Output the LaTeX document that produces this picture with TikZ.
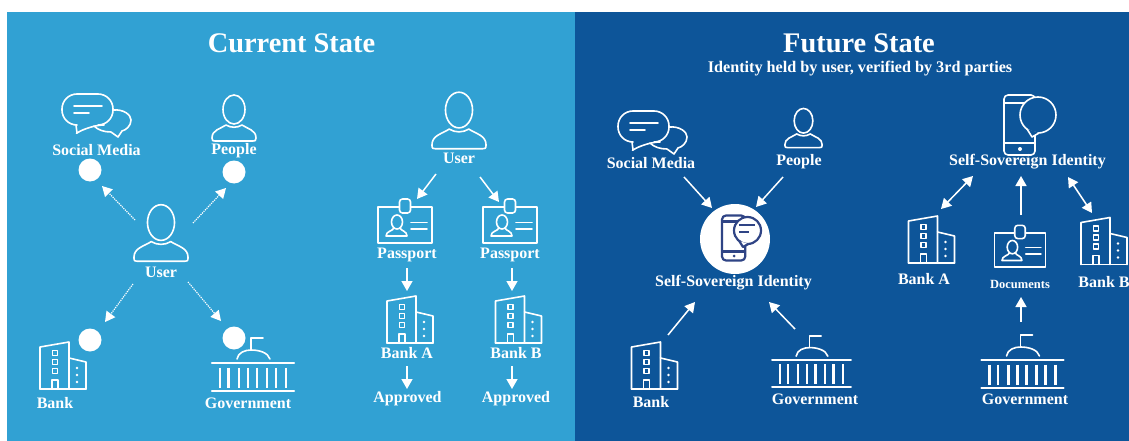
\documentclass[tikz,border=0pt]{standalone}
\usepackage{fontspec}
\setmainfont{Liberation Serif}
\usetikzlibrary{arrows.meta}
\definecolor{leftbg}{HTML}{31A1D3}
\definecolor{rightbg}{HTML}{0D5599}
\definecolor{phoneink}{HTML}{2F4485}
\newcommand{\lab}[1]{\fontsize{#1}{#1}\selectfont\bfseries}
\tikzset{
  x=1pt,y=-1pt,
  icon/.style={draw=white,line width=1.6pt,line join=round,line cap=round},
  lbl/.style={text=white,inner sep=0pt,font=\lab{16}},
  dotnode/.style={circle,fill=white,minimum size=23pt,inner sep=0pt},
  solidarrow/.style={draw=white,line width=1.5pt,-{Triangle[length=10pt,width=11pt]}},
  dblarrow/.style={draw=white,line width=1.5pt,{Triangle[length=10pt,width=11pt]}-{Triangle[length=10pt,width=11pt]}},
  dotarrow/.style={draw=white,line width=1.2pt,densely dotted,-{Triangle[length=10pt,width=11pt,line width=0pt]}},
  pics/person/.style={code={
    \draw[icon] (0,-8.5) ellipse [x radius=11,y radius=14.5];
    \draw[icon] (-8,7) .. controls (-14,11) and (-22,12) .. (-22,20) .. controls (-22,23) and (-21,23) .. (-19,23)
      -- (19,23) .. controls (21,23) and (22,23) .. (22,20) .. controls (22,12) and (14,11) .. (8,7)
      .. controls (3,10) and (-3,10) .. (-8,7) -- cycle;
  }},
  pics/chat/.style={code={
    \draw[icon,rounded corners=15pt] (-20,10) -- (-34,10) -- (-34,-21) -- (17,-21) -- (17,10) -- (-7,10) [sharp corners] -- (-19,18) -- (-20,10);
    \draw[icon] (-22,-9) -- (6,-9);
    \draw[icon] (-22,-2) -- (-7,-2);
    \draw[icon] (17,-5) .. controls (28,-6) and (35,0) .. (35,5) .. controls (35,11) and (30,15) .. (26,16)
      -- (22,22) -- (15,17) .. controls (8,17) and (2,15) .. (-2,11);
  }},
  pics/bank/.style={code={
    \draw[icon] (-23,23) -- (-23,-19) -- (6,-24) -- (6,23);
    \draw[icon] (6,-8) -- (23,-4) -- (23,23);
    \draw[icon] (-23,23) -- (23,23);
    \foreach \wy in {-13,-4,5}{\draw[icon,line width=1.4pt] (-10.5,\wy-2.5) rectangle (-5.5,\wy+2.5);}
    \draw[icon,line width=1.4pt] (-11,23) -- (-11,14) -- (-5,14) -- (-5,23);
    \foreach \wy in {2,9,16}{\fill[white] (14,\wy) circle (1.4);}
  }},
  pics/gov/.style={code={
    \draw[icon,line width=2.4pt] (-41,-1.5) -- (41,-1.5);
    \draw[icon,line width=2.4pt] (-41,26.5) -- (41,26.5);
    \foreach \cx in {-33,-24.5,-14,-5,4,14,23,33}{\draw[icon,line width=2.4pt,line cap=butt] (\cx,3) -- (\cx,23);}
    \draw[icon] (-16,-5.5) .. controls (-15,-12) and (-8,-14.5) .. (-2,-14.5) .. controls (6,-14.5) and (15,-12) .. (17,-5.5);
    \draw[icon] (-2,-14.5) -- (-2,-26.5) -- (10,-26.5);
  }},
  pics/idcard/.style={code={
    \draw[icon] (-27,-18) rectangle (27,18);
    \draw[icon,fill=#1,rounded corners=3pt] (-5.5,-26) rectangle (5.5,-12);
    \draw[icon] (-8,-3) ellipse [x radius=5.5,y radius=7];
    \draw[icon] (-11,3) .. controls (-12,6) and (-19,6) .. (-19,11) -- (2,11) .. controls (2,6) and (-4,6) .. (-5,3);
    \draw[icon] (6,-2.5) -- (22,-2.5);
    \draw[icon] (6,4) -- (22,4);
  }},
  pics/phone/.style n args={3}{code={
    \draw[draw=#1,line width=#3,rounded corners=4pt,line join=round] (-26,-30) rectangle (5,30);
    \draw[draw=#1,line width=#3] (-26,-22) -- (5,-22);
    \draw[draw=#1,line width=#3] (-26,18) -- (5,18);
    \fill[#1] (-10,24) circle (2);
    \draw[draw=#1,line width=#3,fill=#2] (8,-10) circle (18);
    \draw[draw=#1,line width=#3,fill=#2,line join=round] (-3,4) -- (2,12) -- (9,8);
  }},
}
\begin{document}
\begin{tikzpicture}
\useasboundingbox (0,0) rectangle (1129,441);
\fill[white] (0,0) rectangle (1129,441);
\fill[leftbg] (7,12) rectangle (575,441);
\fill[rightbg] (575,12) rectangle (1129,441);

% Titles
\node[lbl,font=\lab{28.4}] (titleL) at (291.5,43) {Current State};
\node[lbl,font=\lab{28.4}] (titleR) at (859,43) {Future State};
\node[lbl,font=\lab{16.2}] (subR) at (860,68.5) {Identity held by user, verified by 3rd parties};

% Current state, left group
\pic at (96,115) {chat};
\pic at (234,118) {person};
\pic[scale=1.23] at (161,233) {person};
\pic at (63,366) {bank};
\pic at (253,364.5) {gov};
\node[lbl] (lsm) at (96.5,150) {Social Media};
\node[lbl] (lpe) at (234,151) {People};
\node[lbl] (lus) at (161,272) {User};
\node[lbl] (lba) at (55,403) {Bank};
\node[lbl] (lgo) at (248,403) {Government};
\node[dotnode] (d1) at (90,170) {};
\node[dotnode] (d2) at (234,172) {};
\node[dotnode] (d3) at (90,340) {};
\node[dotnode] (d4) at (234,338) {};
\coordinate (c1a) at (135,220); \coordinate (c1b) at (102,186);
\coordinate (c2a) at (193,223); \coordinate (c2b) at (226,188);
\coordinate (c3a) at (133,284); \coordinate (c3b) at (105,322);
\coordinate (c4a) at (188,282); \coordinate (c4b) at (221,321);
\draw[dotarrow] (c1a) -- (c1b);
\draw[dotarrow] (c2a) -- (c2b);
\draw[dotarrow] (c3a) -- (c3b);
\draw[dotarrow] (c4a) -- (c4b);

% Current state, right group
\pic[scale=1.23] at (459,120.5) {person};
\pic at (405,225) {idcard=leftbg};
\pic at (510,225) {idcard=leftbg};
\pic at (410,320) {bank};
\pic at (518.5,320) {bank};
\node[lbl] (mus) at (459,158.5) {User};
\node[lbl] (mpa) at (407,255) {Passport};
\node[lbl] (mpb) at (510,255) {Passport};
\node[lbl] (mba) at (407,353) {Bank A};
\node[lbl] (mbb) at (516,353) {Bank B};
\node[lbl] (map) at (407.5,399) {Approved};
\node[lbl] (mbp) at (516,399) {Approved};
\coordinate (c5a) at (436,174); \coordinate (c5b) at (417,199);
\coordinate (c6a) at (480,177); \coordinate (c6b) at (499,202);
\coordinate (c7a) at (407,268); \coordinate (c7b) at (407,291);
\coordinate (c8a) at (512,268); \coordinate (c8b) at (512,291);
\coordinate (c9a) at (407,366); \coordinate (c9b) at (407,389);
\coordinate (c10a) at (512,366); \coordinate (c10b) at (512,389);
\draw[solidarrow] (c5a) -- (c5b);
\draw[solidarrow] (c6a) -- (c6b);
\draw[solidarrow] (c7a) -- (c7b);
\draw[solidarrow] (c8a) -- (c8b);
\draw[solidarrow] (c9a) -- (c9b);
\draw[solidarrow] (c10a) -- (c10b);

% Future state, left group
\pic at (652,132) {chat};
\pic[scale=.85] at (803.5,128) {person};
\pic at (654.5,366) {bank};
\pic[scale=.96] at (811.5,361.5) {gov};
\node[circle,fill=white,minimum size=70pt,inner sep=0pt] (ssi) at (735,239) {};
\pic[scale=.75] at (741.5,238) {phone={phoneink}{white}{2.2pt}};
\draw[phoneink,line width=1.6pt] (739,225) -- (755,225);
\draw[phoneink,line width=1.6pt] (739,232) -- (749,232);
\node[lbl] (rsm) at (651,163) {Social Media};
\node[lbl] (rpe) at (799,162) {People};
\node[lbl] (rss) at (733.5,283) {Self-Sovereign Identity};
\node[lbl] (rba) at (651,402) {Bank};
\node[lbl] (rgo) at (815,399) {Government};
\coordinate (c11a) at (684,177); \coordinate (c11b) at (712,208);
\coordinate (c12a) at (783,177); \coordinate (c12b) at (756,207);
\coordinate (c13a) at (668,335); \coordinate (c13b) at (695,302);
\coordinate (c14a) at (795,329); \coordinate (c14b) at (769,302);
\draw[solidarrow] (c11a) -- (c11b);
\draw[solidarrow] (c12a) -- (c12b);
\draw[solidarrow] (c13a) -- (c13b);
\draw[solidarrow] (c14a) -- (c14b);

% Future state, right group
\pic at (1030,125) {phone={white}{rightbg}{1.6pt}};
\pic at (931.5,240) {bank};
\pic at (1104,241.5) {bank};
\pic[scale=.95] at (1020,250) {idcard=rightbg};
\pic at (1022.5,361.5) {gov};
\node[lbl] (sss) at (1027.5,162) {Self-Sovereign Identity};
\node[lbl] (sba) at (924,279.5) {Bank A};
\node[lbl,font=\lab{12.5}] (sdo) at (1020,284) {Documents};
\node[lbl] (sbb) at (1104,282) {Bank B};
\node[lbl] (sgo) at (1025,399) {Government};
\coordinate (c15a) at (941,209); \coordinate (c15b) at (973,176);
\coordinate (c16a) at (1021,215); \coordinate (c16b) at (1021,176);
\coordinate (c17a) at (1068,177); \coordinate (c17b) at (1092,213);
\coordinate (c18a) at (1021,322); \coordinate (c18b) at (1021,297);
\draw[dblarrow] (c15a) -- (c15b);
\draw[solidarrow] (c16a) -- (c16b);
\draw[dblarrow] (c17a) -- (c17b);
\draw[solidarrow] (c18a) -- (c18b);
\end{tikzpicture}
\end{document}
